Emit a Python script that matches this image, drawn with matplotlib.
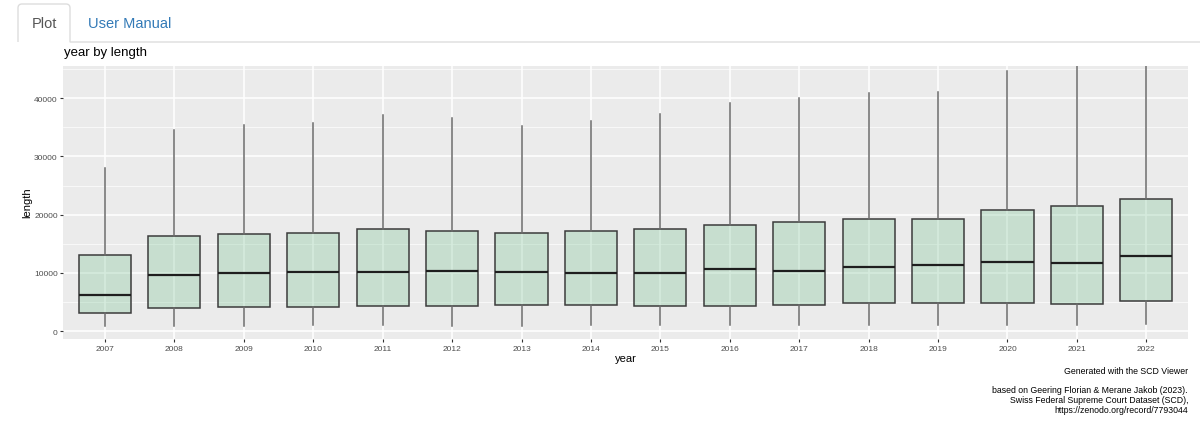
import matplotlib
matplotlib.use("Agg")
import matplotlib.pyplot as plt
from matplotlib.path import Path
from matplotlib.patches import PathPatch
from matplotlib.ticker import MultipleLocator

plt.rcParams['font.family'] = ['Liberation Sans', 'DejaVu Sans']

# ---- data ----
years = ["2007", "2008", "2009", "2010", "2011", "2012", "2013", "2014",
         "2015", "2016", "2017", "2018", "2019", "2020", "2021", "2022"]
whisker_low = [970, 970, 980, 1000, 1000, 980, 980, 1080, 1100, 1100, 1100,
               1000, 1050, 1100, 1100, 1200]
q1 = [3090, 4000, 4110, 4110, 4340, 4340, 4510, 4510, 4400, 4340, 4570,
      4910, 4800, 4860, 4740, 5200]
median = [6230, 9660, 10000, 10110, 10230, 10340, 10170, 10000, 10000, 10630,
          10340, 11090, 11430, 11890, 11720, 12860]
q3 = [13040, 16290, 16750, 16810, 17500, 17260, 16860, 17200, 17600, 18290,
      18750, 19320, 19260, 20810, 21440, 22690]
whisker_high = [27960, 34580, 35440, 35790, 37100, 36640, 35220, 36070, 37270,
                39160, 39970, 40820, 41000, 44650, 48500, 52000]
y_ticks = [0, 10000, 20000, 30000, 40000]
title = "year by length"
caption_1 = "Generated with the SCD Viewer"
caption_2 = ["based on Geering Florian & Merane Jakob (2023).",
             "Swiss Federal Supreme Court Dataset (SCD),",
             "https://zenodo.org/record/7793044"]

W, H = 1200, 439
fig = plt.figure(figsize=(W / 100, H / 100), dpi=100)
fig.patch.set_facecolor("white")


def fx(px):
    return px / W


def fy(py):
    return 1 - py / H


# ---- tabs ----
tab_col = "#dddddd"
verts = [(18, 43), (18, 9), (18, 5), (22, 5), (66, 5), (70, 5), (70, 9),
         (70, 43), (1200, 43)]
codes = [Path.MOVETO, Path.LINETO, Path.CURVE3, Path.CURVE3, Path.LINETO,
         Path.CURVE3, Path.CURVE3, Path.LINETO, Path.LINETO]
path = Path([(fx(x), fy(y)) for x, y in verts], codes)
fig.add_artist(PathPatch(path, facecolor="none", edgecolor=tab_col, lw=1.0,
                         transform=fig.transFigure))
fig.text(fx(44), fy(24), "Plot", ha="center", va="center", fontsize=10.5,
         color="#555555")
fig.text(fx(88), fy(24), "User Manual", ha="left", va="center", fontsize=10.5,
         color="#337ab7")

# ---- plot panel ----
ax_l, ax_r, ax_t, ax_b = 63.3, 1188, 66.5, 339.5
ax = fig.add_axes([fx(ax_l), fy(ax_b), fx(ax_r) - fx(ax_l),
                   fy(ax_t) - fy(ax_b)])
ax.set_facecolor("#ebebeb")
for s in ax.spines.values():
    s.set_visible(False)

positions = list(range(1, len(years) + 1))
stats = []
for i, y in enumerate(years):
    stats.append(dict(label=y, whislo=whisker_low[i], q1=q1[i],
                      med=median[i], q3=q3[i], whishi=whisker_high[i]))

ax.bxp(stats, positions=positions, widths=0.75, showfliers=False,
       showcaps=False, patch_artist=True,
       boxprops=dict(facecolor=(118 / 255, 192 / 255, 145 / 255, 0.3),
                     edgecolor="#3c3c3c", linewidth=1.1),
       whiskerprops=dict(color="#6a6a6a", linewidth=1.1),
       medianprops=dict(color="#1e1e1e", linewidth=1.6),
       zorder=3)

ax.set_xlim(0.4, len(years) + 0.6)
ax.set_ylim(-1235, 45590)
ax.set_yticks(y_ticks)
ax.set_yticklabels([str(v) for v in y_ticks])
ax.yaxis.set_minor_locator(MultipleLocator(5000))
ax.set_xticks(positions)
ax.set_xticklabels(years)

ax.grid(True, which="major", color="white", linewidth=1.1, zorder=0)
ax.grid(True, which="minor", axis="y", color="white", linewidth=0.5,
        zorder=0)
ax.set_axisbelow(True)
ax.tick_params(axis="both", which="major", length=2.5, width=0.8,
               color="#333333", labelsize=6.0, labelcolor="#4d4d4d", pad=1.5)
ax.tick_params(axis="x", which="major", pad=2.0)
ax.tick_params(axis="y", which="minor", length=0)

ax.set_xlabel("year", fontsize=8, color="black", va="center")
ax.set_ylabel("length", fontsize=8, color="black", va="center")
ax_w = ax_r - ax_l
ax_h = ax_b - ax_t
ax.xaxis.set_label_coords(0.5, -(359 - ax_b) / ax_h)
ax.yaxis.set_label_coords(-(ax_l - 27) / ax_w, 0.5)

fig.text(fx(64), fy(53), title, ha="left", va="center", fontsize=9.5,
         color="black")

# ---- captions ----
fig.text(fx(1188), fy(372), caption_1, ha="right", va="center", fontsize=6.3,
         color="black")
for k, line in enumerate(caption_2):
    fig.text(fx(1188), fy(391 + k * 9.6), line, ha="right", va="center",
             fontsize=6.3, color="black")

fig.savefig("out.png", dpi=100, facecolor="white")
